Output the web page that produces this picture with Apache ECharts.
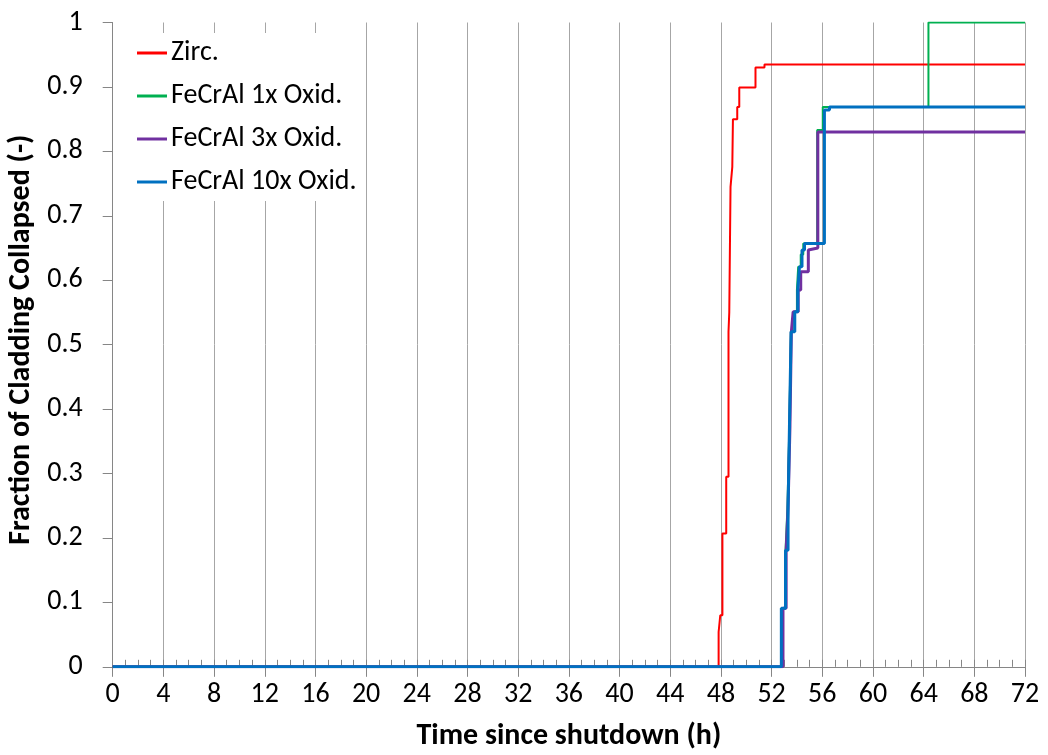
<!DOCTYPE html>
<html>
<head>
<meta charset="utf-8">
<script src="https://cdn.jsdelivr.net/npm/echarts@6/dist/echarts.min.js"></script>
<style>
html,body{margin:0;padding:0;background:#fff;}
#chart{width:1048px;height:755px;}
</style>
</head>
<body>
<div id="chart"></div>
<script>
// Tick labels
const xTicks = [0,4,8,12,16,20,24,28,32,36,40,44,48,52,56,60,64,68,72];
const yTicks = [0,0.1,0.2,0.3,0.4,0.5,0.6,0.7,0.8,0.9,1];
const seriesNames = ['Zirc.', 'FeCrAl 1x Oxid.', 'FeCrAl 3x Oxid.', 'FeCrAl 10x Oxid.'];

// [time (h), fraction collapsed] — value holds from this time until the next point
const zirc = [[0,0],[47.82,0.054],[47.95,0.08],[48.12,0.207],[48.42,0.295],[48.6,0.52],[48.66,0.55],[48.76,0.745],[48.9,0.776],[48.95,0.85],[49.29,0.869],[49.45,0.899],[50.73,0.930],[51.44,0.935],[72,0.935]];
const fecral1x = [[0,0],[52.8,0.091],[53.1,0.181],[53.25,0.246],[53.4,0.373],[53.52,0.52],[53.8,0.551],[54.0,0.585],[54.1,0.621],[54.3,0.64],[54.5,0.657],[55.6,0.833],[56.04,0.869],[64.38,1.0],[72,1.0]];
const fecral3x = [[0,0],[52.9,0.091],[53.15,0.181],[53.3,0.246],[53.45,0.373],[53.56,0.52],[53.7,0.551],[54.1,0.585],[54.3,0.613],[54.9,0.647],[55.05,0.65],[55.65,0.830],[72,0.830]];
const fecral10x = [[0,0],[52.77,0.091],[53.1,0.181],[53.3,0.246],[53.41,0.373],[53.54,0.52],[53.83,0.551],[54.07,0.585],[54.2,0.621],[54.4,0.647],[54.6,0.657],[56.17,0.864],[56.57,0.869],[72,0.869]];

const FONT = 'Carlito, Lato, sans-serif';
const chart = echarts.init(document.getElementById('chart'), null, {renderer:'canvas'});

function mk(name, data, color, width) {
  return {
    name: name, type: 'line', step: 'end', data: data,
    showSymbol: false, symbol: 'none',
    lineStyle: {color: color, width: width},
    itemStyle: {color: color},
    animation: false
  };
}

chart.setOption({
  backgroundColor: '#fff',
  animation: false,
  grid: {left: 112.7, right: 23, top: 22.5, bottom: 88.2, containLabel: false, outerBoundsMode: 'none'},
  legend: {
    orient: 'vertical', left: 129, top: 33,
    backgroundColor: '#fff', padding: [6, 8, 5, 8],
    itemGap: 15, itemWidth: 30, itemHeight: 3, icon: 'rect',
    textStyle: {fontFamily: FONT, fontSize: 28, color: '#000', padding: [0,0,0,-1]},
    data: seriesNames
  },
  xAxis: [{
    type: 'value', min: xTicks[0], max: xTicks[xTicks.length-1], interval: 4,
    name: 'Time since shutdown (h)', nameLocation: 'middle', nameGap: 55,
    nameTextStyle: {fontFamily: FONT, fontSize: 30, fontWeight: 'bold', color: '#000'},
    axisLine: {show: true, onZero: false, lineStyle: {color: '#868686', width: 1}},
    axisTick: {show: true, inside: false, length: 10, lineStyle: {color: '#868686'}},
    axisLabel: {fontFamily: FONT, fontSize: 28, color: '#000', margin: 14},
    splitLine: {show: true, lineStyle: {color: '#a6a6a6', width: 1}}
  }, {
    type: 'value', min: xTicks[0], max: xTicks[xTicks.length-1], interval: 1,
    position: 'bottom', gridIndex: 0,
    axisLine: {show: false},
    axisTick: {show: true, inside: true, length: 7, lineStyle: {color: '#868686'}},
    axisLabel: {show: false},
    splitLine: {show: false}
  }],
  yAxis: {
    type: 'value', min: yTicks[0], max: yTicks[yTicks.length-1], interval: 0.1,
    name: 'Fraction of Cladding Collapsed (-)', nameLocation: 'middle', nameGap: 76,
    nameTextStyle: {fontFamily: FONT, fontSize: 30, fontWeight: 'bold', color: '#000', padding:[0,0,0,10]},
    axisLine: {show: true, lineStyle: {color: '#868686', width: 1}},
    axisTick: {show: true, inside: false, length: 10, lineStyle: {color: '#868686'}},
    axisLabel: {fontFamily: FONT, fontSize: 28, color: '#000', margin: 30,
      formatter: v => String(Math.round(v*10)/10)},
    splitLine: {show: false}
  },
  series: [
    mk(seriesNames[0], zirc, '#FF0000', 2),
    mk(seriesNames[1], fecral1x, '#00B050', 2),
    mk(seriesNames[2], fecral3x, '#7030A0', 3),
    mk(seriesNames[3], fecral10x, '#0070C0', 3)
  ]
});
</script>
</body>
</html>
